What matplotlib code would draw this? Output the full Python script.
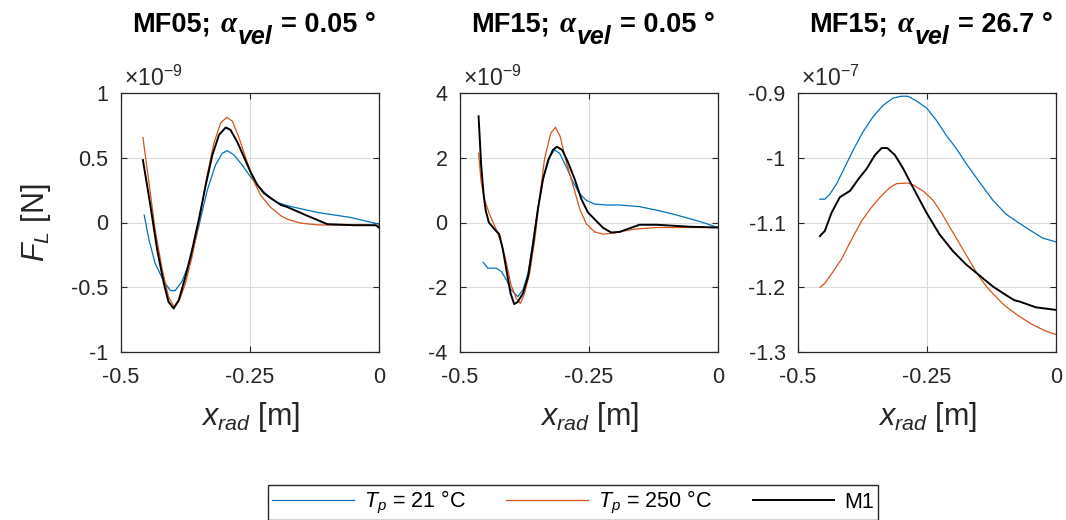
import numpy as np
import matplotlib
matplotlib.use("Agg")
import matplotlib.pyplot as plt
from matplotlib.transforms import IdentityTransform

plt.rcParams["font.family"] = ["Liberation Sans", "DejaVu Sans"]
plt.rcParams["mathtext.fontset"] = "custom"
plt.rcParams["mathtext.rm"] = "Liberation Sans"
plt.rcParams["mathtext.it"] = "Liberation Sans:italic"
plt.rcParams["mathtext.bf"] = "Liberation Sans:bold"

# panel 1: MF05, alpha = 0.05 deg  (values in 1e-9 N)
p1_blue_x = [-0.455, -0.446, -0.434, -0.417, -0.404, -0.395, -0.382, -0.365, -0.349, -0.333, -0.317, -0.304, -0.294, -0.281,
             -0.265, -0.249, -0.232, -0.216, -0.197, -0.178, -0.12, -0.055, 0.0]
p1_blue_y = [0.057, -0.13, -0.313, -0.456, -0.526, -0.526, -0.456, -0.286, -0.026, 0.247, 0.443, 0.534, 0.555, 0.521,
             0.443, 0.352, 0.273, 0.208, 0.156, 0.13, 0.078, 0.039, -0.013]
p1_orange_x = [-0.4575, -0.446, -0.434, -0.42, -0.408, -0.398, -0.388, -0.375, -0.362, -0.349, -0.333, -0.32, -0.307, -0.295,
               -0.284, -0.271, -0.258, -0.245, -0.229, -0.21, -0.19, -0.178, -0.152, -0.12, -0.087, -0.023, 0.0]
p1_orange_y = [0.656, 0.313, -0.052, -0.365, -0.573, -0.646, -0.612, -0.469, -0.26, 0.0, 0.365, 0.612, 0.768, 0.813,
               0.781, 0.651, 0.495, 0.339, 0.208, 0.117, 0.052, 0.026, -0.005, -0.018, -0.02, -0.018, -0.026]
p1_black_x = [-0.4575, -0.443, -0.43, -0.417, -0.408, -0.398, -0.388, -0.375, -0.362, -0.349, -0.336, -0.323, -0.31, -0.297,
              -0.288, -0.275, -0.262, -0.249, -0.236, -0.223, -0.21, -0.19, -0.178, -0.139, -0.1, -0.049, -0.006, 0.0]
p1_black_y = [0.482, 0.13, -0.208, -0.469, -0.612, -0.664, -0.599, -0.417, -0.208, 0.026, 0.286, 0.521, 0.677, 0.734,
              0.716, 0.625, 0.508, 0.391, 0.292, 0.227, 0.188, 0.135, 0.12, 0.052, -0.013, -0.021, -0.021, -0.04]

# panel 2: MF15, alpha = 0.05 deg  (values in 1e-9 N)
p2_blue_x = [-0.455, -0.446, -0.43, -0.42, -0.41, -0.401, -0.388, -0.378, -0.368, -0.359, -0.349, -0.339, -0.326, -0.317,
             -0.307, -0.294, -0.281, -0.268, -0.255, -0.239, -0.216, -0.191, -0.152, -0.119, -0.087, -0.035, 0.0]
p2_blue_y = [-1.23, -1.41, -1.41, -1.51, -1.77, -2.08, -2.29, -2.08, -1.56, -0.625, 0.42, 1.35, 2.03, 2.24,
             2.14, 1.72, 1.25, 0.885, 0.68, 0.57, 0.54, 0.54, 0.49, 0.38, 0.26, 0.03, -0.155]
p2_orange_x = [-0.464, -0.459, -0.452, -0.443, -0.43, -0.42, -0.41, -0.401, -0.391, -0.383, -0.375, -0.365, -0.355, -0.346,
               -0.336, -0.324, -0.315, -0.306, -0.294, -0.281, -0.268, -0.255, -0.239, -0.223, -0.203, -0.165, -0.119, 0.0]
p2_orange_y = [2.14, 1.25, 0.68, 0.26, -0.21, -0.625, -1.25, -1.93, -2.34, -2.5, -2.19, -1.56, -0.52, 0.73,
               1.98, 2.76, 2.94, 2.66, 1.875, 1.15, 0.42, -0.05, -0.29, -0.36, -0.33, -0.21, -0.155, -0.155]
p2_black_x = [-0.464, -0.459, -0.454, -0.45, -0.444, -0.433, -0.424, -0.417, -0.409, -0.402, -0.395, -0.388, -0.378, -0.368,
              -0.359, -0.349, -0.339, -0.329, -0.32, -0.312, -0.302, -0.291, -0.278, -0.265, -0.252, -0.236, -0.223, -0.207,
              -0.191, -0.152, -0.119, -0.055, 0.0]
p2_black_y = [3.28, 1.77, 0.83, 0.36, 0.0, -0.21, -0.36, -0.83, -1.56, -2.19, -2.52, -2.45, -2.19, -1.67,
              -0.73, 0.42, 1.35, 1.93, 2.24, 2.34, 2.24, 1.875, 1.35, 0.73, 0.31, 0.05, -0.16, -0.31,
              -0.29, -0.07, -0.07, -0.13, -0.155]

# panel 3: MF15, alpha = 26.7 deg  (values in 1e-7 N)
p3_blue_x = [-0.4575, -0.448, -0.438, -0.425, -0.409, -0.393, -0.374, -0.354, -0.335, -0.316, -0.3, -0.287, -0.271, -0.251,
             -0.232, -0.213, -0.193, -0.174, -0.148, -0.122, -0.097, -0.077, -0.052, -0.026, 0.0]
p3_blue_y = [-1.064, -1.064, -1.056, -1.04, -1.014, -0.988, -0.96, -0.936, -0.919, -0.908, -0.905, -0.905, -0.912, -0.923,
             -0.942, -0.965, -0.986, -1.009, -1.038, -1.066, -1.087, -1.098, -1.111, -1.124, -1.13]
p3_orange_x = [-0.4575, -0.448, -0.432, -0.416, -0.396, -0.377, -0.358, -0.341, -0.322, -0.309, -0.287, -0.274, -0.255, -0.238,
               -0.222, -0.203, -0.18, -0.155, -0.135, -0.11, -0.097, -0.071, -0.045, -0.019, 0.0]
p3_orange_y = [-1.2, -1.194, -1.176, -1.157, -1.126, -1.098, -1.077, -1.061, -1.046, -1.04, -1.039, -1.043, -1.053, -1.066,
               -1.085, -1.111, -1.142, -1.176, -1.199, -1.22, -1.23, -1.245, -1.258, -1.268, -1.273]
p3_black_x = [-0.4575, -0.448, -0.435, -0.419, -0.399, -0.383, -0.367, -0.351, -0.338, -0.327, -0.312, -0.296, -0.277, -0.251,
              -0.226, -0.2, -0.174, -0.148, -0.122, -0.097, -0.081, -0.071, -0.039, 0.0]
p3_black_y = [-1.121, -1.113, -1.085, -1.061, -1.051, -1.033, -1.017, -0.996, -0.985, -0.985, -0.996, -1.017, -1.046, -1.085,
              -1.118, -1.144, -1.165, -1.182, -1.199, -1.212, -1.22, -1.222, -1.231, -1.235]

title_cases = ["MF05;", "MF15;", "MF15;"]
title_angles = ["= 0.05 °", "= 0.05 °", "= 26.7 °"]
exponents = ["-9", "-9", "-7"]
ylims = [(-1, 1), (-4, 4), (-1.3, -0.9)]
yticks = [[-1, -0.5, 0, 0.5, 1], [-4, -2, 0, 2, 4], [-1.3, -1.2, -1.1, -1, -0.9]]
ytlabels = [["-1", "-0.5", "0", "0.5", "1"], ["-4", "-2", "0", "2", "4"],
            ["-1.3", "-1.2", "-1.1", "-1", "-0.9"]]
legend_labels = [r"$T_p$ = 21 °C", r"$T_p$ = 250 °C", "M1"]

blue = "#0072BD"
orange = "#D95319"
axcol = "#262626"
W, H = 1066, 520

series = [
    (p1_blue_x, p1_blue_y, p1_orange_x, p1_orange_y, p1_black_x, p1_black_y),
    (p2_blue_x, p2_blue_y, p2_orange_x, p2_orange_y, p2_black_x, p2_black_y),
    (p3_blue_x, p3_blue_y, p3_orange_x, p3_orange_y, p3_black_x, p3_black_y),
]

fig = plt.figure(figsize=(W / 100, H / 100), dpi=100)
renderer = fig.canvas.get_renderer()


# title made of pieces so the subscript can stay full size like in MATLAB
def rich_title(cx, base, parts):
    items = []
    for s, kw, dy, gap in parts:
        t = fig.text(0, 0, s, transform=IdentityTransform(), ha="left", va="baseline", **kw)
        items.append((t, dy, gap, t.get_window_extent(renderer).width))
    total = sum(w + g for _, _, g, w in items)
    x = cx - total / 2
    for t, dy, gap, w in items:
        t.set_position((x, H - base - dy))
        x += w + gap


lefts = [121, 460, 798]
handles = None
for i, (bx, by, ox, oy, kx, ky) in enumerate(series):
    ax = fig.add_axes([lefts[i] / W, 1 - 352 / H, 258 / W, 259 / H])
    h1, = ax.plot(bx, by, color=blue, lw=0.9)
    h2, = ax.plot(ox, oy, color=orange, lw=0.9)
    h3, = ax.plot(kx, ky, color="black", lw=1.4)
    handles = [h1, h2, h3]
    ax.set_xlim(-0.5, 0)
    ax.set_ylim(*ylims[i])
    ax.set_xticks([-0.5, -0.25, 0])
    ax.set_xticklabels(["-0.5", "-0.25", "0"])
    ax.set_yticks(yticks[i])
    ax.set_yticklabels(ytlabels[i])
    ax.grid(True, color="#dcdcdc", lw=0.8)
    ax.tick_params(direction="in", length=4, width=0.8, colors=axcol,
                   labelsize=15.5, top=True, right=True)
    ax.tick_params(axis="x", pad=11)
    ax.tick_params(axis="y", pad=9)
    for s in ax.spines.values():
        s.set_color(axcol)
        s.set_linewidth(0.9)
    ax.set_xlabel(r"$x_{rad}$ [m]", fontsize=22, color=axcol)
    ax.xaxis.set_label_coords(0.5, -0.185)
    ax.text(0.01, 1.01, r"$\times$10$^{" + exponents[i] + "}$", transform=ax.transAxes,
            fontsize=16.5, color=axcol, ha="left", va="bottom")
    if i == 0:
        ax.set_ylabel(r"$F_L$ [N]", fontsize=22, color=axcol)
        ax.yaxis.set_label_coords(-0.265, 0.5)

    bold = dict(fontsize=19.5, fontweight="bold", color="black")
    rich_title(lefts[i] + 129 + 4, 32, [
        (title_cases[i], bold, 0, 10),
        ("α", dict(fontsize=21, fontweight="bold", style="italic",
                   family=["Liberation Serif"], color="black"), 0, 1),
        ("vel", dict(fontsize=18, fontweight="bold", style="italic", color="black"), 12, 9),
        (title_angles[i], bold, 0, 0),
    ])

fig.legend(handles, legend_labels, loc="upper center", ncol=3,
           bbox_to_anchor=(573 / W, 1 - 474 / H), fontsize=15.5,
           handlelength=3.8, handletextpad=0.45, columnspacing=1.9, frameon=True,
           fancybox=False, edgecolor=axcol, borderpad=0.2, framealpha=1)

fig.savefig("out.png", dpi=100)
